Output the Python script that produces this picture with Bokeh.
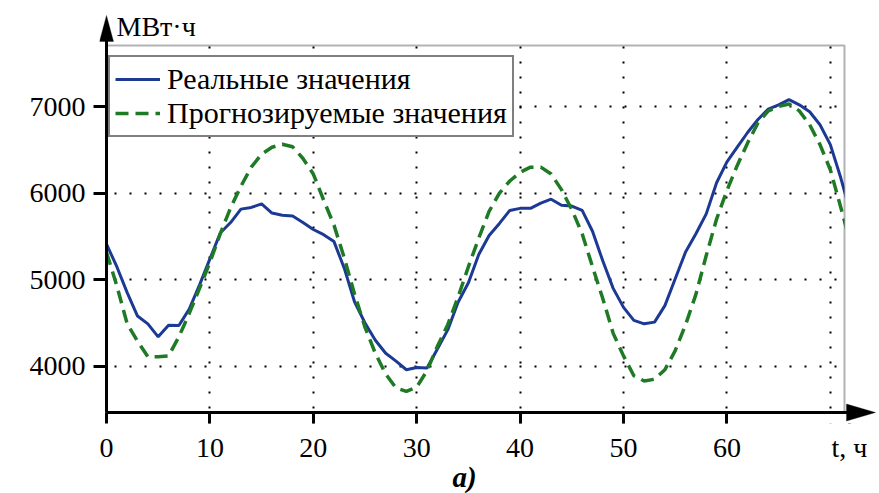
from bokeh.plotting import figure
from bokeh.models import (FixedTicker, Range1d, Legend, LegendItem, Label, Arrow,
                          PolyAnnotation, BoxAnnotation, Title)
from bokeh.embed import file_html
from bokeh.resources import INLINE

# ---- data (hours, MWh) ----
hours = list(range(0, 73))
real_values = [5410, 5150, 4850, 4580, 4490, 4340, 4475, 4470, 4660, 4940,
               5240, 5540, 5660, 5815, 5835, 5875, 5770, 5745, 5735, 5660,
               5580, 5520, 5440, 5130, 4740, 4500, 4300, 4150, 4060, 3960,
               3985, 3980, 4200, 4420, 4740, 4965, 5290, 5510, 5650, 5800,
               5824, 5824, 5885, 5930, 5860, 5850, 5800, 5560, 5215, 4900,
               4680, 4530, 4490, 4510, 4700, 5010, 5320, 5530, 5760, 6120,
               6360, 6530, 6700, 6850, 6970, 7020, 7080, 7020, 6940, 6790,
               6560, 6180, 5750]
forecast_values = [5315, 4930, 4490, 4290, 4110, 4110, 4120, 4340, 4610, 4900,
                   5200, 5530, 5830, 6080, 6300, 6450, 6530, 6565, 6535, 6400,
                   6220, 5920, 5630, 5250, 4830, 4450, 4150, 3910, 3750, 3710,
                   3760, 3950, 4230, 4480, 4800, 5150, 5480, 5790, 6000, 6140,
                   6240, 6300, 6300, 6220, 6040, 5810, 5530, 5150, 4780, 4380,
                   4120, 3890, 3830, 3850, 3960, 4180, 4480, 4830, 5280, 5700,
                   6030, 6320, 6580, 6810, 6950, 7000, 7030, 6950, 6790, 6560,
                   6270, 5840, 5400]
x_axis_ticks = [0, 10, 20, 30, 40, 50, 60]
x_grid_ticks = [10, 20, 30, 40, 50, 60, 70]
y_ticks = [4000, 5000, 6000, 7000]
series_names = ["Реальные значения", "Прогнозируемые значения"]
y_unit = "МВт·ч"
x_unit = "t, ч"
caption = "а)"

FONT = "Liberation Serif"
BLUE = "#1c3a94"
GREEN = "#1f7a26"

# plot box (data units) and the wider frame that also holds arrows / unit text
X_MIN, X_MAX = 0, 71.37
Y_MIN, Y_MAX = 3466, 7705
PXX = 10.34            # px per hour
PXY = 1 / 11.55        # px per MWh
X_UNIT_POS = X_MAX + 5 / PXX

p = figure(frame_width=777, frame_height=409, output_backend="svg",
           toolbar_location=None,
           x_range=Range1d(X_MIN - 7 / PXX, X_MAX + 32 / PXX),
           y_range=Range1d(Y_MIN - 11 / PXY, Y_MAX + 31 / PXY),
           min_border_left=99, min_border_right=3, min_border_top=14,
           min_border_bottom=70)
p.background_fill_color = "white"
p.border_fill_color = "white"
p.outline_line_color = None

# grid
p.xgrid.ticker = FixedTicker(ticks=x_grid_ticks)
p.ygrid.ticker = FixedTicker(ticks=y_ticks)
for g in (p.xgrid, p.ygrid):
    g.grid_line_color = "black"
    g.grid_line_dash = "2 13"
    g.grid_line_width = 2

# axes: ticks/labels from Bokeh, axis lines drawn at the plot box below
p.xaxis.ticker = FixedTicker(ticks=x_axis_ticks + [X_UNIT_POS])
p.xaxis.major_label_overrides = {X_UNIT_POS: x_unit}
p.yaxis.ticker = FixedTicker(ticks=y_ticks)
for ax in (p.xaxis, p.yaxis):
    ax.axis_line_color = None
    ax.major_tick_line_width = 3
    ax.major_tick_line_color = "black"
    ax.minor_tick_line_color = None
    ax.major_label_text_font = FONT
    ax.major_label_text_font_size = "28px"
    ax.major_label_text_color = "black"
    ax.major_label_standoff = 8
p.xaxis.major_tick_in = 11
p.xaxis.major_tick_out = 0
p.yaxis.major_tick_in = 7
p.yaxis.major_tick_out = 6

# lines
r_real = p.line(hours, real_values, line_color=BLUE, line_width=3)
r_fore = p.line(hours, forecast_values, line_color=GREEN, line_width=3.5,
                line_dash="13 7")

# white masks outside the plot box
mask = dict(fill_color="white", fill_alpha=1, line_color=None, line_alpha=0)
p.add_layout(BoxAnnotation(bottom=Y_MAX, **mask))
p.add_layout(BoxAnnotation(left=X_MAX, **mask))
p.add_layout(BoxAnnotation(left=61, top=Y_MIN, **mask))

# plot box border
p.add_layout(BoxAnnotation(left=X_MIN, right=X_MAX, bottom=Y_MIN, top=Y_MAX,
                           fill_alpha=0, line_color="black", line_width=2))

# axis lines with arrow heads
p.add_layout(Arrow(x_start=X_MIN, y_start=Y_MIN, x_end=X_MIN, y_end=Y_MAX + 20 / PXY,
                   end=None, line_width=3, line_color="black"))
p.add_layout(Arrow(x_start=X_MIN, y_start=Y_MIN, x_end=X_MAX + 14 / PXX, y_end=Y_MIN,
                   end=None, line_width=3, line_color="black"))
p.add_layout(PolyAnnotation(
    xs=[X_MIN - 7 / PXX, X_MIN + 7 / PXX, X_MIN],
    ys=[Y_MAX + 4 / PXY, Y_MAX + 4 / PXY, Y_MAX + 30 / PXY],
    fill_color="black", fill_alpha=1, line_color="black", line_width=1))
p.add_layout(PolyAnnotation(
    xs=[X_MAX + 2 / PXX, X_MAX + 2 / PXX, X_MAX + 31 / PXX],
    ys=[Y_MIN + 8.5 / PXY, Y_MIN - 8.5 / PXY, Y_MIN],
    fill_color="black", fill_alpha=1, line_color="black", line_width=1))

legend = Legend(items=[LegendItem(label=series_names[0], renderers=[r_real]),
                       LegendItem(label=series_names[1], renderers=[r_fore])],
                location=(9, 286))
legend.border_line_color = "black"
legend.border_line_width = 2
legend.background_fill_color = "white"
legend.background_fill_alpha = 1
legend.label_text_font = FONT
legend.label_text_font_size = "30px"
legend.label_text_color = "black"
legend.label_height = 30
legend.glyph_height = 30
legend.glyph_width = 45
legend.label_standoff = 7
legend.spacing = 0
legend.padding = 5
legend.margin = 0
p.add_layout(legend, "center")

# unit of the value axis (inside the frame, above the plot box)
p.add_layout(Label(x=X_MIN + 10 / PXX, y=Y_MAX + 19 / PXY, text=y_unit,
                   text_font=FONT, text_font_size="28px",
                   text_baseline="alphabetic", text_align="left",
                   text_color="black"))

# caption under the axis
p.add_layout(Title(text=caption, align="left", offset=353, standoff=-10,
                   vertical_align="top",
                   text_font=FONT, text_font_size="29px",
                   text_font_style="bold italic", text_color="black"), "below")

open("out.html", "w").write(file_html(p, INLINE))
